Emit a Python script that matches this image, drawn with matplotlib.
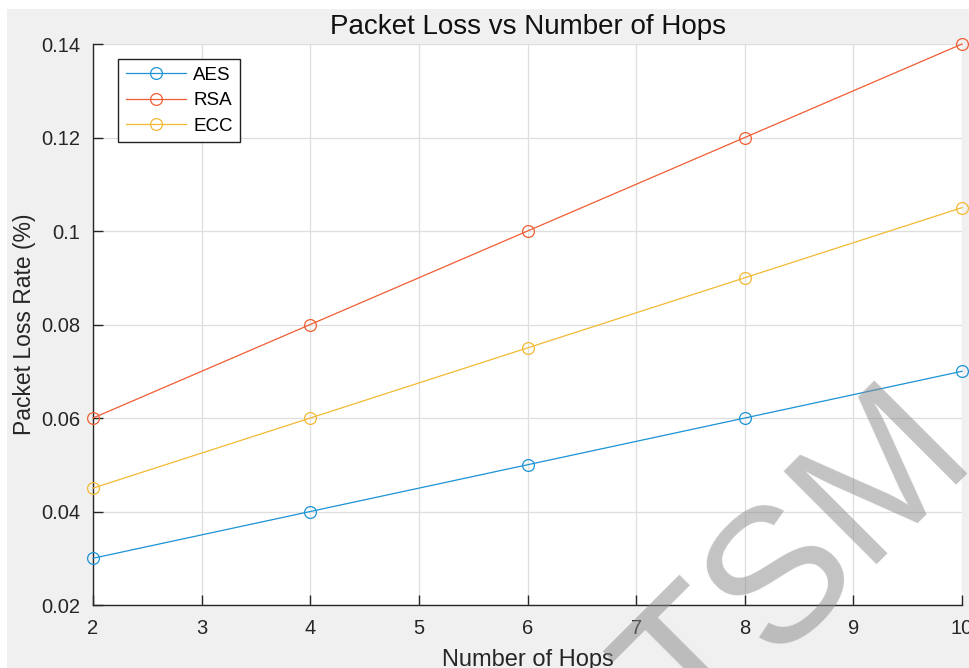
import matplotlib.pyplot as plt
from matplotlib.patches import Rectangle

plt.rcParams['font.family'] = ['Liberation Sans', 'DejaVu Sans']

# data
hops = [2, 4, 6, 8, 10]
aes_loss = [0.03, 0.04, 0.05, 0.06, 0.07]
rsa_loss = [0.06, 0.08, 0.10, 0.12, 0.14]
ecc_loss = [0.045, 0.06, 0.075, 0.09, 0.105]
series_names = ['AES', 'RSA', 'ECC']
series_colors = ['#1b93d6', '#f05d33', '#f3b933']
x_ticks = [2, 3, 4, 5, 6, 7, 8, 9, 10]
y_ticks = [0.02, 0.04, 0.06, 0.08, 0.1, 0.12, 0.14]
y_tick_labels = ['0.02', '0.04', '0.06', '0.08', '0.1', '0.12', '0.14']

fig = plt.figure(figsize=(9.7, 6.68), dpi=100, facecolor='white')
# grey MATLAB figure panel
fig.patches.append(Rectangle((0.0072, 0), 1, 0.9865, transform=fig.transFigure,
                             facecolor='#f0f0f0', edgecolor='none', zorder=-10))

ax = fig.add_axes([0.0959, 0.0943, 0.8959, 0.8398])
ax.set_facecolor('white')

for values, name, color in zip([aes_loss, rsa_loss, ecc_loss], series_names, series_colors):
    ax.plot(hops, values, color=color, linewidth=0.9, marker='o', markersize=8.5,
            markerfacecolor='none', markeredgewidth=0.9, label=name, clip_on=False, zorder=3)

ax.set_xlim(2, 10)
ax.set_ylim(0.02, 0.14)
ax.set_xticks(x_ticks)
ax.set_yticks(y_ticks)
ax.set_yticklabels(y_tick_labels)
ax.tick_params(direction='in', length=7, width=1, colors='#262626', labelsize=14.5, pad=9)
ax.tick_params(axis='x', pad=10)
ax.grid(True, color='#dedede', linewidth=0.9)
ax.set_axisbelow(True)
for side in ['top', 'right']:
    ax.spines[side].set_visible(False)
for side in ['left', 'bottom']:
    ax.spines[side].set_color('#262626')
    ax.spines[side].set_linewidth(1)

ax.set_title('Packet Loss vs Number of Hops', fontsize=20, pad=7, color='#111111')
ax.set_xlabel('Number of Hops', fontsize=17, color='#262626', labelpad=8)
ax.set_ylabel('Packet Loss Rate (%)', fontsize=16.5, color='#262626', labelpad=4)

leg = ax.legend(loc='upper left', bbox_to_anchor=(0.0288, 0.973), borderaxespad=0,
                fontsize=13.5, handlelength=3.2, handletextpad=0.4, labelspacing=0.45,
                fancybox=False, framealpha=1, edgecolor='#222222', borderpad=0.4)
leg.get_frame().set_linewidth(1)

# watermark
fig.text(0.861, 0.099, 'TSM', fontsize=138, color='#888888', alpha=0.5,
         rotation=45, rotation_mode='anchor', ha='center', va='baseline', zorder=10)

fig.savefig('out.png', dpi=100, facecolor=fig.get_facecolor())
